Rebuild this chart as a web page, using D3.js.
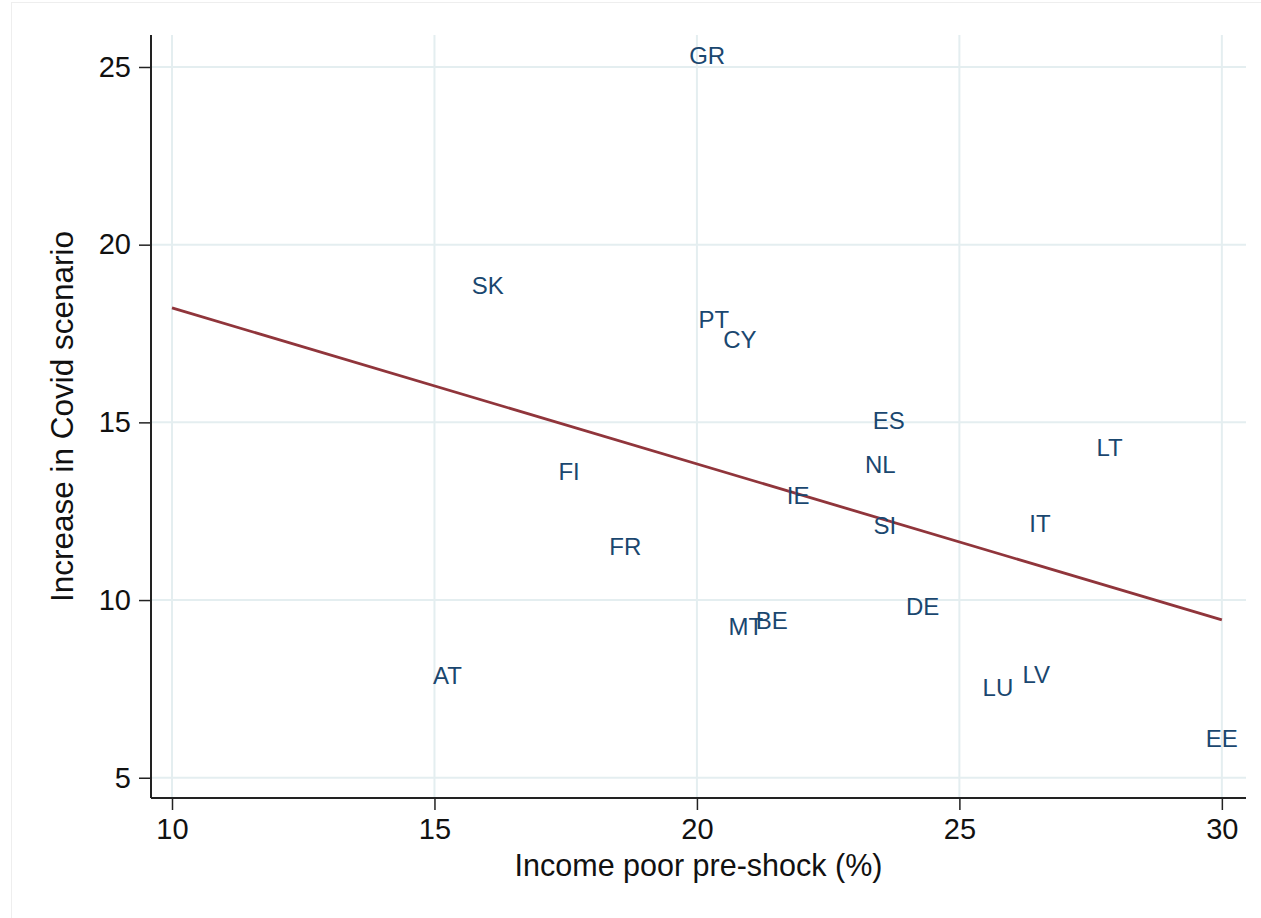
<!DOCTYPE html>
<html>
<head>
<meta charset="utf-8">
<script src="https://cdn.jsdelivr.net/npm/d3@7"></script>
<style>
    body { margin: 0; background: #ffffff; }
    svg { display: block; font-family: "Liberation Sans", Arial, Helvetica, sans-serif; }
</style>
</head>
<body>
<div id="chart"></div>
<script>
// Poverty before the shock vs. increase in the Covid scenario, by country

// ---------- Data ----------

const countries = ["GR", "SK", "PT", "CY", "FI", "FR", "IE", "MT", "BE", "AT",
                   "ES", "NL", "SI", "IT", "LT", "DE", "LU", "LV", "EE"];

// x: income poor pre-shock (%)
const incomePoor = [19.88, 15.74, 20.06, 20.53, 17.39, 18.36, 21.74, 20.63, 21.15, 15.0,
                    23.38, 23.23, 23.39, 26.36, 27.64, 24.01, 25.47, 26.23, 29.72];

// y: increase in Covid scenario
const covidIncrease = [25.33, 18.85, 17.91, 17.34, 13.62, 11.51, 12.94, 9.26, 9.43, 7.88,
                       15.06, 13.81, 12.10, 12.17, 14.29, 9.81, 7.55, 7.92, 6.12];

// fitted line end points
const fitX = [10, 30];
const fitY = [18.22, 9.44];

const xTicks = [10, 15, 20, 25, 30];
const yTicks = [5, 10, 15, 20, 25];

// ---------- Setup ----------

const width = 1261;
const height = 918;

const plot = { left: 151, right: 1246, top: 35, bottom: 798 };

const svg = d3.select("#chart")
    .append("svg")
    .attr("width", width)
    .attr("height", height);

// faint outer frame of the graph region
svg.append("rect")
    .attr("x", 11.5)
    .attr("y", 2.5)
    .attr("width", width)
    .attr("height", height)
    .attr("fill", "none")
    .attr("stroke", "#eeeeee");

const xScale = d3.scaleLinear()
    .domain([9.6, 30.46])
    .range([plot.left, plot.right]);

const yScale = d3.scaleLinear()
    .domain([4.43, 25.9])
    .range([plot.bottom, plot.top]);

// ---------- Grid ----------

const grid = svg.append("g");

grid.selectAll(".vgrid")
    .data(xTicks)
    .enter()
    .append("line")
    .attr("x1", d => xScale(d))
    .attr("x2", d => xScale(d))
    .attr("y1", plot.top)
    .attr("y2", plot.bottom)
    .attr("stroke", "#e4eef0")
    .attr("stroke-width", 2);

grid.selectAll(".hgrid")
    .data(yTicks)
    .enter()
    .append("line")
    .attr("x1", plot.left)
    .attr("x2", plot.right)
    .attr("y1", d => yScale(d))
    .attr("y2", d => yScale(d))
    .attr("stroke", "#e4eef0")
    .attr("stroke-width", 2);

// ---------- Axes ----------

const xAxis = d3.axisBottom(xScale)
    .tickValues(xTicks)
    .tickSize(12)
    .tickPadding(8)
    .tickSizeOuter(0);

const yAxis = d3.axisLeft(yScale)
    .tickValues(yTicks)
    .tickSize(12)
    .tickPadding(8)
    .tickSizeOuter(0);

const xAxisGroup = svg.append("g")
    .attr("transform", `translate(0, ${plot.bottom})`)
    .call(xAxis);

const yAxisGroup = svg.append("g")
    .attr("transform", `translate(${plot.left}, 0)`)
    .call(yAxis);

[xAxisGroup, yAxisGroup].forEach(g => {
    g.select(".domain").attr("stroke", "#222").attr("stroke-width", 2);
    g.selectAll(".tick line").attr("stroke", "#222").attr("stroke-width", 1.5);
    g.selectAll(".tick text")
        .attr("fill", "#111")
        .style("font-size", "29px")
        .style("font-family", "'Liberation Sans', Arial, sans-serif");
});

// the domain paths should run the full plot width / height
xAxisGroup.select(".domain").attr("d", `M${plot.left},0H${plot.right}`);
yAxisGroup.select(".domain").attr("d", `M0,${plot.top}V${plot.bottom}`);

// ---------- Axis titles ----------

svg.append("text")
    .attr("x", (plot.left + plot.right) / 2)
    .attr("y", 876)
    .attr("text-anchor", "middle")
    .attr("fill", "#111")
    .style("font-size", "30.5px")
    .text("Income poor pre-shock (%)");

svg.append("text")
    .attr("transform", `translate(73, ${(plot.top + plot.bottom) / 2}) rotate(-90)`)
    .attr("text-anchor", "middle")
    .attr("fill", "#111")
    .style("font-size", "31.5px")
    .text("Increase in Covid scenario");

// ---------- Fitted line ----------

const fitPoints = fitX.map((x, i) => ({ x: x, y: fitY[i] }));

const lineGenerator = d3.line()
    .x(d => xScale(d.x))
    .y(d => yScale(d.y));

svg.append("path")
    .datum(fitPoints)
    .attr("d", lineGenerator)
    .attr("fill", "none")
    .attr("stroke", "#90353b")
    .attr("stroke-width", 2.8);

// ---------- Country labels ----------

const points = countries.map((c, i) => ({
    name: c,
    x: incomePoor[i],
    y: covidIncrease[i]
}));

svg.append("g")
    .selectAll("text")
    .data(points)
    .enter()
    .append("text")
    .attr("x", d => xScale(d.x) - 1.5)
    .attr("y", d => yScale(d.y))
    .attr("dy", "0.36em")
    .attr("fill", "#1a476f")
    .style("font-size", "24px")
    .text(d => d.name);
</script>
</body>
</html>
